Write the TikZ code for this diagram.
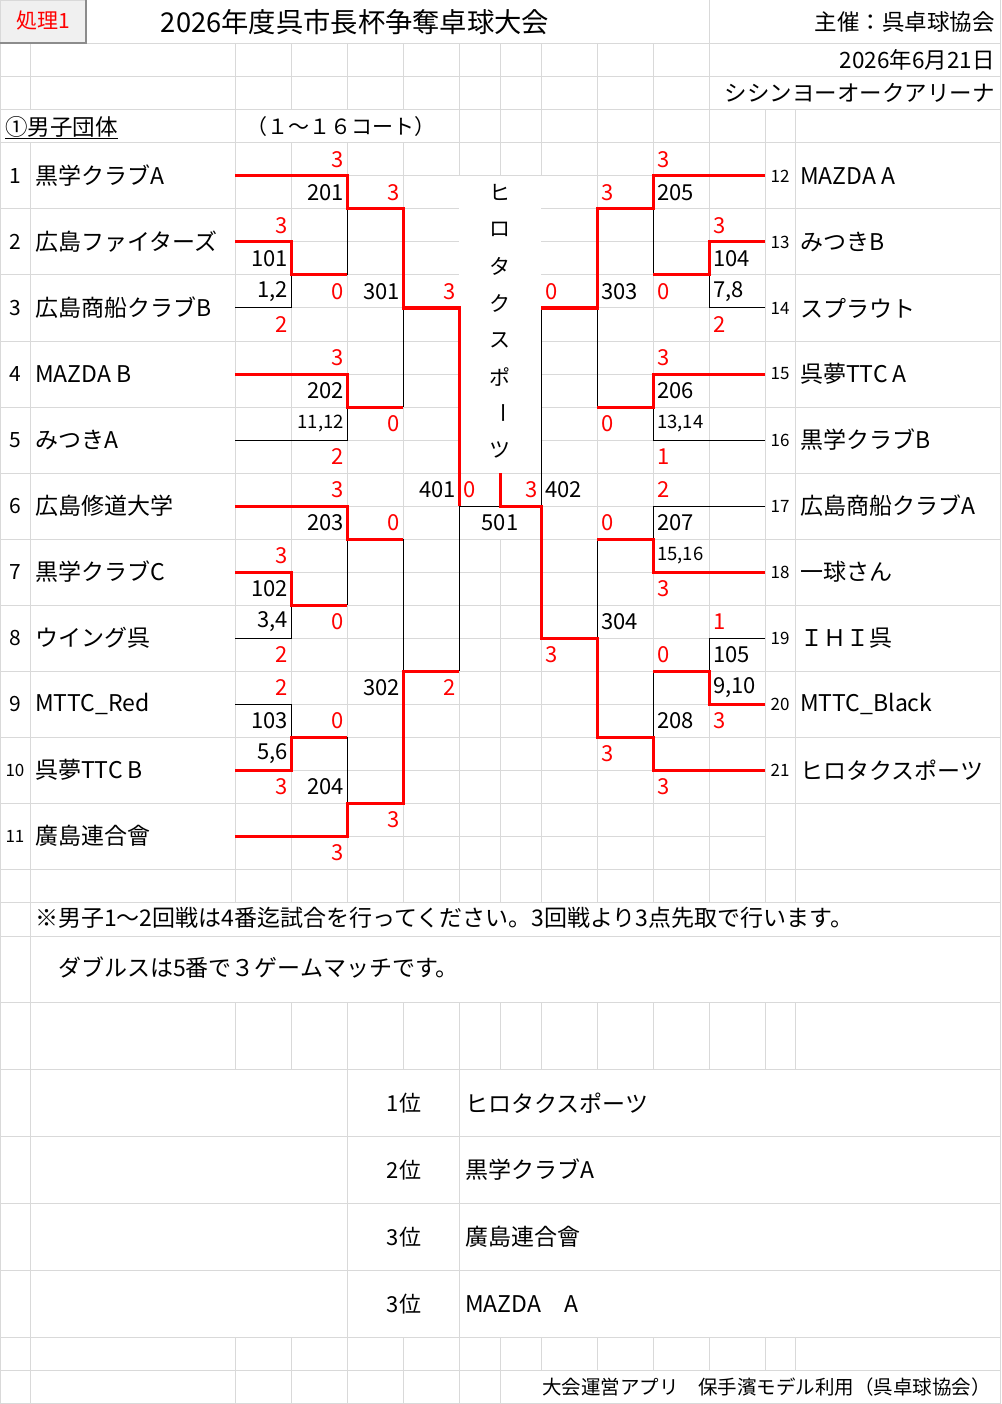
\documentclass[tikz,border=0pt]{standalone}
\usepackage{fontspec}
\setmainfont{Noto Sans CJK JP}
\definecolor{gridc}{HTML}{D9D9D9}
\definecolor{xlred}{HTML}{FF0000}
\definecolor{btnfill}{HTML}{F0F0F0}
\definecolor{btndark}{HTML}{8C8C8C}
\newcommand\fsz[1]{\fontsize{#1}{#1}\selectfont}
\tikzset{
  gridln/.style={draw=gridc, line width=1pt},
  win/.style={draw=xlred, line width=3pt},
  lose/.style={draw=black, line width=1pt},
  lbl/.style={inner sep=0pt, font=\fsz{22}},
  redR/.style={lbl, text=xlred, anchor=east},
  redL/.style={lbl, text=xlred, anchor=west},
  blkR/.style={lbl, anchor=east},
  blkL/.style={lbl, anchor=west},
  smallR/.style={inner sep=0pt, font=\fsz{18.5}, anchor=east},
  smallL/.style={inner sep=0pt, font=\fsz{18.5}, anchor=west},
  tname/.style={inner sep=0pt, font=\fsz{23}, anchor=west},
  tnum/.style={inner sep=0pt, font=\fsz{21}},
  tnumsm/.style={inner sep=0pt, font=\fsz{17}},
  vchar/.style={inner sep=0pt, font=\fsz{21}},
}
\begin{document}
\begin{tikzpicture}[x=1pt,y=-1pt]
\useasboundingbox (0,0) rectangle (1001,1404);
\fill[white] (0,0) rectangle (1001,1404);
% ---------------- grid: horizontal ----------------
\foreach \y in {44,77,110,143,869,902,936,1002,1069,1136,1203,1270,1337,1370}
  \draw[gridln] (0,\y) -- (1000,\y);
\draw[gridln] (0,1403) -- (1000,1403);
\foreach \y in {176,473,506,539,572,605,638,671,704,737,770,803,836}
  \draw[gridln] (235,\y) -- (765,\y);
\foreach \y in {209,242,275,308,341,374,407,440}{
  \draw[gridln] (235,\y) -- (459,\y);
  \draw[gridln] (541,\y) -- (765,\y);
}
\foreach \y in {209,275,341,407,473,539,605,671,737,803}{
  \draw[gridln] (0,\y) -- (235,\y);
  \draw[gridln] (765,\y) -- (1000,\y);
}
% ---------------- grid: vertical ----------------
\draw[gridln] (0,0) -- (0,1404);
\draw[gridln] (1000,0) -- (1000,1404);
\draw[gridln] (709,0) -- (709,44);
\foreach \x in {30,235,291,347,403,459,500,541,597,653,709}
  \draw[gridln] (\x,44) -- (\x,110);
\foreach \x in {235,459,500,541,597,653,709,765,795}
  \draw[gridln] (\x,110) -- (\x,143);
\foreach \x in {30,235,291,347,403,597,653,709,765,795}
  \draw[gridln] (\x,143) -- (\x,869);
\foreach \x in {459,541}{
  \draw[gridln] (\x,143) -- (\x,176);
  \draw[gridln] (\x,308) -- (\x,869);
}
\draw[gridln] (500,143) -- (500,176);
\draw[gridln] (500,473) -- (500,506);
\draw[gridln] (500,539) -- (500,869);
\foreach \x in {30,235,291,347,403,459,500,541,597,653,709,765,795}{
  \draw[gridln] (\x,869) -- (\x,902);
  \draw[gridln] (\x,1002) -- (\x,1069);
  \draw[gridln] (\x,1337) -- (\x,1370);
}
\draw[gridln] (30,902) -- (30,1002);
\foreach \x in {30,347,459}
  \draw[gridln] (\x,1069) -- (\x,1337);
\foreach \x in {30,235,291,347,403,459,500}
  \draw[gridln] (\x,1370) -- (\x,1404);

% ---------------- header ----------------
\fill[btnfill] (0,0) rectangle (87,44);
\draw[gridc, line width=1pt] (0.5,43) -- (0.5,0.5) -- (86,0.5);
\draw[btndark, line width=2pt] (0,43) -- (86,43) -- (86,0);
\node[inner sep=0pt, font=\fsz{21}, text=xlred] (btn) at (43,21) {処理1};
\node[inner sep=0pt, font=\fsz{27.3}] (title) at (355,22) {2026年度呉市長杯争奪卓球大会};
\node[inner sep=0pt, font=\fsz{22.5}, anchor=east] (host) at (995,22) {主催：呉卓球協会};
\node[inner sep=0pt, font=\fsz{22.5}, anchor=east] (date) at (995,60) {2026年6月21日};
\node[inner sep=0pt, font=\fsz{22.5}, anchor=east] (arena) at (995,93) {シシンヨーオークアリーナ};
\node[inner sep=0pt, font=\fsz{22.5}, anchor=west] (event) at (5,127) {①男子団体};
\draw[black, line width=1pt] (5,139) -- (event.east |- 0,139);
\node[inner sep=0pt, font=\fsz{21}, anchor=west] (courts) at (246,127) {（１～１６コート）};

% ---------------- bracket: losing (black) lines ----------------
% left
\draw[lose] (235,308) -- (291,308) -- (291,275);
\draw[lose] (235,440) -- (347,440) -- (347,407);
\draw[lose] (235,638) -- (291,638) -- (291,605);
\draw[lose] (235,704) -- (291,704) -- (291,737);
\draw[lose] (347,209) -- (347,275);
\draw[lose] (403,308) -- (403,407);
\draw[lose] (347,539) -- (347,605);
\draw[lose] (347,737) -- (347,803);
\draw[lose] (403,539) -- (403,671);
\draw[lose] (459,671) -- (459,506) -- (500,506);
% right
\draw[lose] (765,308) -- (709,308) -- (709,275);
\draw[lose] (765,440) -- (653,440) -- (653,407);
\draw[lose] (765,506) -- (653,506) -- (653,539);
\draw[lose] (765,638) -- (709,638) -- (709,671);
\draw[lose] (653,209) -- (653,275);
\draw[lose] (597,308) -- (597,407);
\draw[lose] (597,539) -- (597,638);
\draw[lose] (653,671) -- (653,737);
\draw[lose] (541,308) -- (541,506);

% ---------------- bracket: winning (red) lines ----------------
% left
\draw[win] (235,176) -- (347,176) -- (347,209) -- (403,209) -- (403,308) -- (459,308) -- (459,506);
\draw[win] (235,242) -- (291,242) -- (291,275) -- (347,275);
\draw[win] (235,374) -- (347,374) -- (347,407) -- (403,407);
\draw[win] (235,506) -- (347,506) -- (347,539) -- (403,539);
\draw[win] (235,572) -- (291,572) -- (291,605) -- (347,605);
\draw[win] (235,770) -- (291,770) -- (291,737) -- (347,737);
\draw[win] (235,836) -- (347,836) -- (347,803) -- (403,803) -- (403,671) -- (459,671);
% right
\draw[win] (765,176) -- (653,176) -- (653,209) -- (597,209) -- (597,308) -- (541,308);
\draw[win] (765,242) -- (709,242) -- (709,275) -- (653,275);
\draw[win] (765,374) -- (653,374) -- (653,407) -- (597,407);
\draw[win] (765,572) -- (653,572) -- (653,539) -- (597,539);
\draw[win] (765,704) -- (709,704) -- (709,671) -- (653,671);
\draw[win] (765,770) -- (653,770) -- (653,737) -- (597,737) -- (597,638) -- (541,638) -- (541,506) -- (500,506) -- (500,473);

% ---------------- scores (red) ----------------
\foreach \x/\y/\t [count=\k] in {344/160/3, 400/193/3, 288/226/3, 344/292/0, 456/292/3,
  288/325/2, 344/358/3, 400/424/0, 344/457/2, 344/490/3, 400/523/0, 538/490/3,
  288/556/3, 344/622/0, 288/655/2, 288/688/2, 456/688/2, 344/721/0, 288/787/3,
  400/820/3, 344/853/3}
  \node[redR] (scl\k) at (\x,\y) {\t};
\foreach \x/\y/\t [count=\k] in {463/490/0, 657/160/3, 601/193/3, 713/226/3, 657/292/0,
  545/292/0, 713/325/2, 657/358/3, 601/424/0, 657/457/1, 657/490/2, 601/523/0,
  657/589/3, 713/622/1, 545/655/3, 657/655/0, 713/721/3, 601/754/3, 657/787/3}
  \node[redL] (scr\k) at (\x,\y) {\t};

% ---------------- match numbers ----------------
\foreach \x/\y/\t [count=\k] in {344/193/201, 288/259/101, 288/292/{1,2}, 400/292/301,
  344/391/202, 456/490/401, 344/523/203, 288/589/102, 288/622/{3,4}, 400/688/302,
  288/721/103, 288/754/{5,6}, 344/787/204}
  \node[blkR] (mnl\k) at (\x,\y) {\t};
\foreach \x/\y/\t [count=\k] in {657/193/205, 713/259/104, 713/292/{7,8}, 601/292/303,
  657/391/206, 545/490/402, 657/523/207, 601/622/304, 713/655/105, 713/688/{9,10},
  657/721/208}
  \node[blkL] (mnr\k) at (\x,\y) {\t};
\node[smallR] (mnl11) at (344,424) {11,12};
\node[smallL] (mnr13) at (657,424) {13,14};
\node[smallL] (mnr15) at (657,556) {15,16};
\node[lbl] (final) at (500,523) {501};

% ---------------- champion (vertical text) ----------------
\foreach \c/\y [count=\k] in {ヒ/192, ロ/229, タ/266, ク/303, ス/340, ポ/377}
  \node[vchar] (vc\k) at (500,\y) {\c};
\node[vchar, rotate=-90] (vc7) at (500,413) {ー};
\node[vchar] (vc8) at (500,450) {ツ};

% ---------------- teams ----------------
\foreach \n/\t [count=\k] in {1/黒学クラブA, 2/広島ファイターズ, 3/広島商船クラブB,
  4/MAZDA B, 5/みつきA, 6/広島修道大学, 7/黒学クラブC, 8/ウイング呉, 9/MTTC\_Red}
{
  \node[tnum] (ln\k) at (15,{176+66*(\k-1)}) {\n};
  \node[tname] (lt\k) at (35,{176+66*(\k-1)}) {\t};
}
\node[tnumsm] (ln10) at (15,770) {10};
\node[tname] (lt10) at (35,770) {呉夢TTC B};
\node[tnumsm] (ln11) at (15,836) {11};
\node[tname] (lt11) at (35,836) {廣島連合會};
\foreach \n/\t [count=\k] in {12/MAZDA A, 13/みつきB, 14/スプラウト, 15/呉夢TTC A,
  16/黒学クラブB, 17/広島商船クラブA, 18/一球さん, 19/ＩＨＩ呉, 20/MTTC\_Black,
  21/ヒロタクスポーツ}
{
  \node[tnumsm] (rn\k) at (780,{176+66*(\k-1)}) {\n};
  \node[tname] (rt\k) at (800,{176+66*(\k-1)}) {\t};
}

% ---------------- notes ----------------
\node[inner sep=0pt, font=\fsz{23}, anchor=west] (note1) at (35,918)
  {※男子1～2回戦は4番迄試合を行ってください。3回戦より3点先取で行います。};
\node[inner sep=0pt, font=\fsz{23}, anchor=west] (note2) at (58,968)
  {ダブルスは5番で３ゲームマッチです。};

% ---------------- ranking ----------------
\foreach \r/\t/\y [count=\k] in {1位/ヒロタクスポーツ/1103, 2位/黒学クラブA/1170,
  3位/廣島連合會/1237, 3位/MAZDA　A/1304}
{
  \node[inner sep=0pt, font=\fsz{22}] (rk\k) at (404,\y) {\r};
  \node[inner sep=0pt, font=\fsz{23}, anchor=west] (rkn\k) at (465,\y) {\t};
}

% ---------------- footer ----------------
\node[inner sep=0pt, font=\fsz{19.5}, anchor=east] (footer) at (991,1387)
  {大会運営アプリ　保手濱モデル利用（呉卓球協会）};
\end{tikzpicture}
\end{document}
